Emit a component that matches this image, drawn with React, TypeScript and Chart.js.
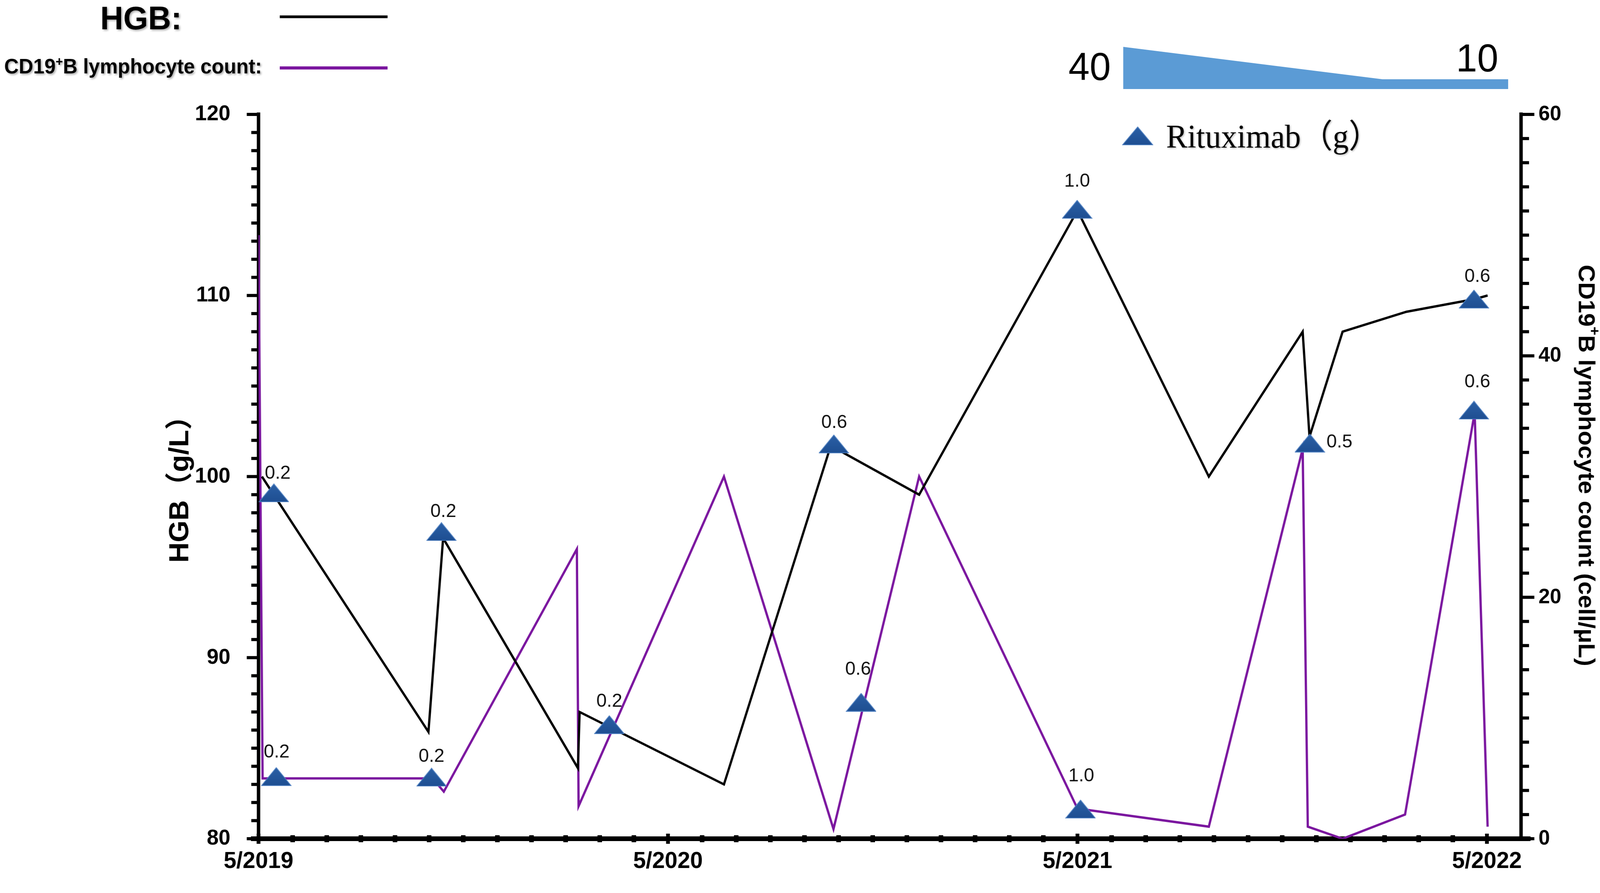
import React, { useEffect, useRef } from 'react';
import { Chart, registerables } from 'chart.js';

Chart.register(...registerables);

const CANVAS_W = 4215;
const CANVAS_H = 2287;

// x values are months counted from 5/2019
const hgbMonths = [0.1, 4.98, 5.41, 9.36, 9.41, 13.64, 16.77, 19.36, 24.0, 27.85, 30.6, 30.8, 31.77, 33.64, 35.64, 36.02];
const hgbValues = [100.0, 85.9, 96.6, 83.9, 87.0, 83.0, 101.7, 99.0, 114.7, 100.0, 108.0, 102.2, 108.0, 109.1, 109.8, 110.0];

const cd19Months = [0.0, 0.12, 5.1, 5.43, 9.33, 9.38, 13.64, 16.85, 19.36, 24.0, 27.85, 30.6, 30.75, 31.77, 33.6, 35.64, 36.02];
const cd19Values = [50, 5.0, 5.0, 3.9, 24.0, 2.7, 30.0, 0.8, 30.0, 2.5, 1.0, 32.3, 1.0, 0.0, 2.0, 35.3, 1.0];

// Rituximab doses placed on the HGB curve
const rituxHgbMonths = [0.45, 5.36, 10.28, 16.86, 23.99, 30.81, 35.62];
const rituxHgbValues = [99.1, 96.96, 86.3, 101.8, 114.76, 101.85, 109.8];
const rituxHgbDoses = ['0.2', '0.2', '0.2', '0.6', '1.0', '0.5', '0.6'];

// Rituximab doses placed on the CD19 curve
const rituxCd19Months = [0.52, 5.07, 17.66, 24.09, 35.62];
const rituxCd19Values = [5.15, 5.1, 11.3, 2.46, 35.5];
const rituxCd19Doses = ['0.2', '0.2', '0.6', '1.0', '0.6'];

const xTickMonths = [0, 12, 24, 36];
const xTickLabels = ['5/2019', '5/2020', '5/2021', '5/2022'];
const hgbTicks = [80, 90, 100, 110, 120];
const cd19Ticks = [0, 20, 40, 60];

const steroidStart = '40';
const steroidEnd = '10';

// label placement (style): offsets of dose labels from their markers, px
const hgbLabelOffsets = [[10, -50], [5, -51], [0, -59], [1, -55], [0, -72], [78, -2], [9, -58]];
const cd19LabelOffsets = [[1, -62], [0, -53], [-8, -84], [2, -84], [9, -72]];

const SANS = "'Liberation Sans', Arial, Helvetica, sans-serif";
const SANS_CJK = "'Liberation Sans', Arial, 'Noto Sans CJK SC', sans-serif";
const SERIF_CJK = "'Liberation Serif', 'Times New Roman', 'Noto Sans CJK SC', serif";
const PURPLE = '#7B169F';

function makeTriangle(w: number, h: number): HTMLCanvasElement {
  const c = document.createElement('canvas');
  c.width = w;
  c.height = h;
  const g = c.getContext('2d')!;
  const grad = g.createLinearGradient(0, 0, 0, h);
  grad.addColorStop(0, '#2B60A6');
  grad.addColorStop(1, '#1E4E91');
  g.beginPath();
  g.moveTo(w / 2, 1);
  g.lineTo(w - 1, h - 1);
  g.lineTo(1, h - 1);
  g.closePath();
  g.fillStyle = grad;
  g.fill();
  g.strokeStyle = 'rgba(80,130,195,0.9)';
  g.lineWidth = 2;
  g.stroke();
  return c;
}

type Part = [string, boolean];

function richWidth(ctx: CanvasRenderingContext2D, parts: Part[], size: number, weight: string, family: string) {
  let w = 0;
  for (const [t, sup] of parts) {
    ctx.font = `${weight} ${sup ? Math.round(size * 0.62) : size}px ${family}`;
    w += ctx.measureText(t).width;
  }
  return w;
}

function drawRich(ctx: CanvasRenderingContext2D, parts: Part[], x: number, y: number, size: number, weight: string, family: string) {
  let cx = x;
  ctx.textAlign = 'left';
  for (const [t, sup] of parts) {
    ctx.font = `${weight} ${sup ? Math.round(size * 0.62) : size}px ${family}`;
    ctx.fillText(t, cx, sup ? y - size * 0.36 : y);
    cx += ctx.measureText(t).width;
  }
}

export default function App() {
  const ref = useRef<HTMLCanvasElement | null>(null);

  useEffect(() => {
    document.body.style.margin = '0';
    document.body.style.overflow = 'hidden';
    const canvas = ref.current;
    if (!canvas) return;
    const tri = makeTriangle(80, 48);

    const decor = {
      id: 'decor',
      beforeDatasetsDraw(chart: any) {
        const ctx: CanvasRenderingContext2D = chart.ctx;
        const { left, right, top, bottom } = chart.chartArea;
        const sx = chart.scales.x;
        const sy = chart.scales.y;
        const sy1 = chart.scales.y1;
        ctx.save();
        ctx.fillStyle = '#000';
        // left axis with minor ticks every 1 g/L
        ctx.fillRect(left - 4.5, top - 5, 9, bottom - top + 11);
        for (let v = sy.min; v <= sy.max; v += 1) {
          const py = sy.getPixelForValue(v);
          const len = v % 10 === 0 ? 31 : 19;
          ctx.fillRect(left - len, py - 4, len, 8);
        }
        // right axis with minor ticks every 2 cells
        ctx.fillRect(right - 4.5, top - 5, 9, bottom - top + 11);
        for (let v = sy1.min; v <= sy1.max; v += 2) {
          const py = sy1.getPixelForValue(v);
          const len = v % 20 === 0 ? 35 : 21;
          ctx.fillRect(right, py - 4, len, 8);
        }
        // bottom axis with monthly ticks
        ctx.fillRect(left - 20, bottom - 6, right - left + 45, 12);
        for (let m = sx.min; m < sx.max; m += 1) {
          const px = sx.getPixelForValue(m);
          if (m % 12 === 0) ctx.fillRect(px - 5, bottom - 13, 10, 26);
          else ctx.fillRect(px - 6, bottom - 9, 12, 18);
        }
        ctx.restore();
      },
      afterDatasetsDraw(chart: any) {
        const ctx: CanvasRenderingContext2D = chart.ctx;
        ctx.save();
        // dose labels
        ctx.fillStyle = '#111';
        ctx.font = `49px ${SANS}`;
        ctx.textAlign = 'center';
        ctx.textBaseline = 'middle';
        const m2 = chart.getDatasetMeta(2);
        m2.data.forEach((pt: any, i: number) => {
          const o = hgbLabelOffsets[i];
          ctx.fillText(rituxHgbDoses[i], pt.x + o[0], pt.y + o[1]);
        });
        const m3 = chart.getDatasetMeta(3);
        m3.data.forEach((pt: any, i: number) => {
          const o = cd19LabelOffsets[i];
          ctx.fillText(rituxCd19Doses[i], pt.x + o[0], pt.y + o[1]);
        });

        // top-left legend
        ctx.textBaseline = 'alphabetic';
        ctx.shadowColor = 'rgba(0,0,0,0.35)';
        ctx.shadowBlur = 5;
        ctx.shadowOffsetX = 3;
        ctx.shadowOffsetY = 3;
        ctx.fillStyle = '#000';
        ctx.font = `bold 84px ${SANS}`;
        ctx.textAlign = 'left';
        ctx.fillText('HGB:', 264, 75);
        drawRich(ctx, [['CD19', false], ['+', true], ['B lymphocyte count:', false]], 11, 188, 53, 'bold', SANS);
        ctx.shadowColor = 'rgba(0,0,0,0)';
        ctx.lineWidth = 7;
        ctx.strokeStyle = '#000';
        ctx.beginPath();
        ctx.moveTo(737, 43);
        ctx.lineTo(1021, 43);
        ctx.stroke();
        ctx.lineWidth = 8;
        ctx.strokeStyle = PURPLE;
        ctx.beginPath();
        ctx.moveTo(737, 174);
        ctx.lineTo(1021, 174);
        ctx.stroke();

        // steroid taper wedge (top right)
        ctx.fillStyle = '#5B9BD5';
        ctx.beginPath();
        ctx.moveTo(2959, 120);
        ctx.lineTo(3642, 203);
        ctx.lineTo(3973, 203);
        ctx.lineTo(3973, 228);
        ctx.lineTo(2959, 228);
        ctx.closePath();
        ctx.fill();
        ctx.fillStyle = '#000';
        ctx.font = `100px ${SANS}`;
        ctx.textAlign = 'right';
        ctx.fillText(steroidStart, 2926, 205);
        ctx.fillText(steroidEnd, 3947, 183);

        // Rituximab legend
        ctx.drawImage(tri, 2997 - 41, 348 - 24, 82, 48);
        ctx.shadowColor = 'rgba(0,0,0,0.3)';
        ctx.shadowBlur = 4;
        ctx.shadowOffsetX = 2;
        ctx.shadowOffsetY = 2;
        ctx.textAlign = 'left';
        ctx.font = `84px ${SERIF_CJK}`;
        ctx.fillText('Rituximab（g）', 3072, 378);
        ctx.shadowColor = 'rgba(0,0,0,0)';

        // left axis title
        ctx.save();
        ctx.translate(476, 1235);
        ctx.rotate(-Math.PI / 2);
        ctx.font = `bold 72px ${SANS_CJK}`;
        ctx.textAlign = 'center';
        ctx.textBaseline = 'middle';
        ctx.fillText('HGB（g/L）', 0, 0);
        ctx.restore();

        // right axis title
        ctx.save();
        ctx.translate(4176, 1192);
        ctx.rotate(Math.PI / 2);
        ctx.textBaseline = 'middle';
        const parts: Part[] = [['CD19', false], ['+', true], ['B lymphocyte count (cell/μL)', false]];
        const w = richWidth(ctx, parts, 62, 'bold', SANS);
        drawRich(ctx, parts, -w / 2, 0, 62, 'bold', SANS);
        ctx.restore();

        ctx.restore();
      },
    };

    const tickFont = { family: SANS, weight: 'bold' as const, size: 56 };

    const chart = new Chart(canvas, {
      type: 'scatter',
      data: {
        datasets: [
          {
            label: 'HGB',
            data: hgbMonths.map((x, i) => ({ x, y: hgbValues[i] })),
            showLine: true,
            borderColor: '#000',
            backgroundColor: '#000',
            borderWidth: 6,
            pointRadius: 0,
            yAxisID: 'y',
            order: 1,
          },
          {
            label: 'CD19+B lymphocyte count',
            data: cd19Months.map((x, i) => ({ x, y: cd19Values[i] })),
            showLine: true,
            borderColor: PURPLE,
            backgroundColor: PURPLE,
            borderWidth: 6,
            pointRadius: 0,
            yAxisID: 'y1',
            order: 2,
          },
          {
            label: 'Rituximab (HGB)',
            data: rituxHgbMonths.map((x, i) => ({ x, y: rituxHgbValues[i] })),
            pointStyle: tri as any,
            pointRadius: 24,
            yAxisID: 'y',
            clip: false as any,
            order: 0,
          },
          {
            label: 'Rituximab (CD19)',
            data: rituxCd19Months.map((x, i) => ({ x, y: rituxCd19Values[i] })),
            pointStyle: tri as any,
            pointRadius: 24,
            yAxisID: 'y1',
            clip: false as any,
            order: 0,
          },
        ],
      },
      options: {
        animation: false,
        responsive: false,
        devicePixelRatio: 1,
        layout: { padding: { top: 293, left: 0, right: 0, bottom: 0 }, autoPadding: false },
        plugins: {
          legend: { display: false },
          tooltip: { enabled: false },
          title: { display: false },
        },
        events: [],
        scales: {
          x: {
            type: 'linear',
            position: 'bottom',
            min: 0,
            max: 37,
            grid: { display: false, drawTicks: false },
            border: { display: false },
            afterBuildTicks: (s: any) => {
              s.ticks = xTickMonths.map((v) => ({ value: v }));
            },
            ticks: {
              autoSkip: false,
              maxRotation: 0,
              padding: 22,
              color: '#000',
              font: { family: SANS, weight: 'bold', size: 60 },
              callback: (v: any) => xTickLabels[xTickMonths.indexOf(Number(v))] ?? '',
            },
            afterFit: (s: any) => {
              s.height = CANVAS_H - 2148;
            },
          },
          y: {
            type: 'linear',
            position: 'left',
            min: 80,
            max: 120,
            grid: { display: false, drawTicks: false },
            border: { display: false },
            afterBuildTicks: (s: any) => {
              s.ticks = hgbTicks.map((v) => ({ value: v }));
            },
            ticks: { padding: 74, color: '#000', font: tickFont },
            afterFit: (s: any) => {
              s.width = 681;
            },
          },
          y1: {
            type: 'linear',
            position: 'right',
            min: 0,
            max: 60,
            grid: { display: false, drawTicks: false },
            border: { display: false },
            afterBuildTicks: (s: any) => {
              s.ticks = cd19Ticks.map((v) => ({ value: v }));
            },
            ticks: { padding: 46, color: '#000', font: { family: SANS, weight: 'bold', size: 54 } },
            afterFit: (s: any) => {
              s.width = CANVAS_W - 4007;
            },
          },
        },
      } as any,
      plugins: [decor],
    });

    return () => {
      chart.destroy();
    };
  }, []);

  return (
    <div style={{ position: 'fixed', left: 0, top: 0, width: '100vw', height: '100vh', background: '#fff', overflow: 'hidden' }}>
      <canvas
        ref={ref}
        width={CANVAS_W}
        height={CANVAS_H}
        style={{ display: 'block', width: '100vw', height: '100vh' }}
      />
    </div>
  );
}
